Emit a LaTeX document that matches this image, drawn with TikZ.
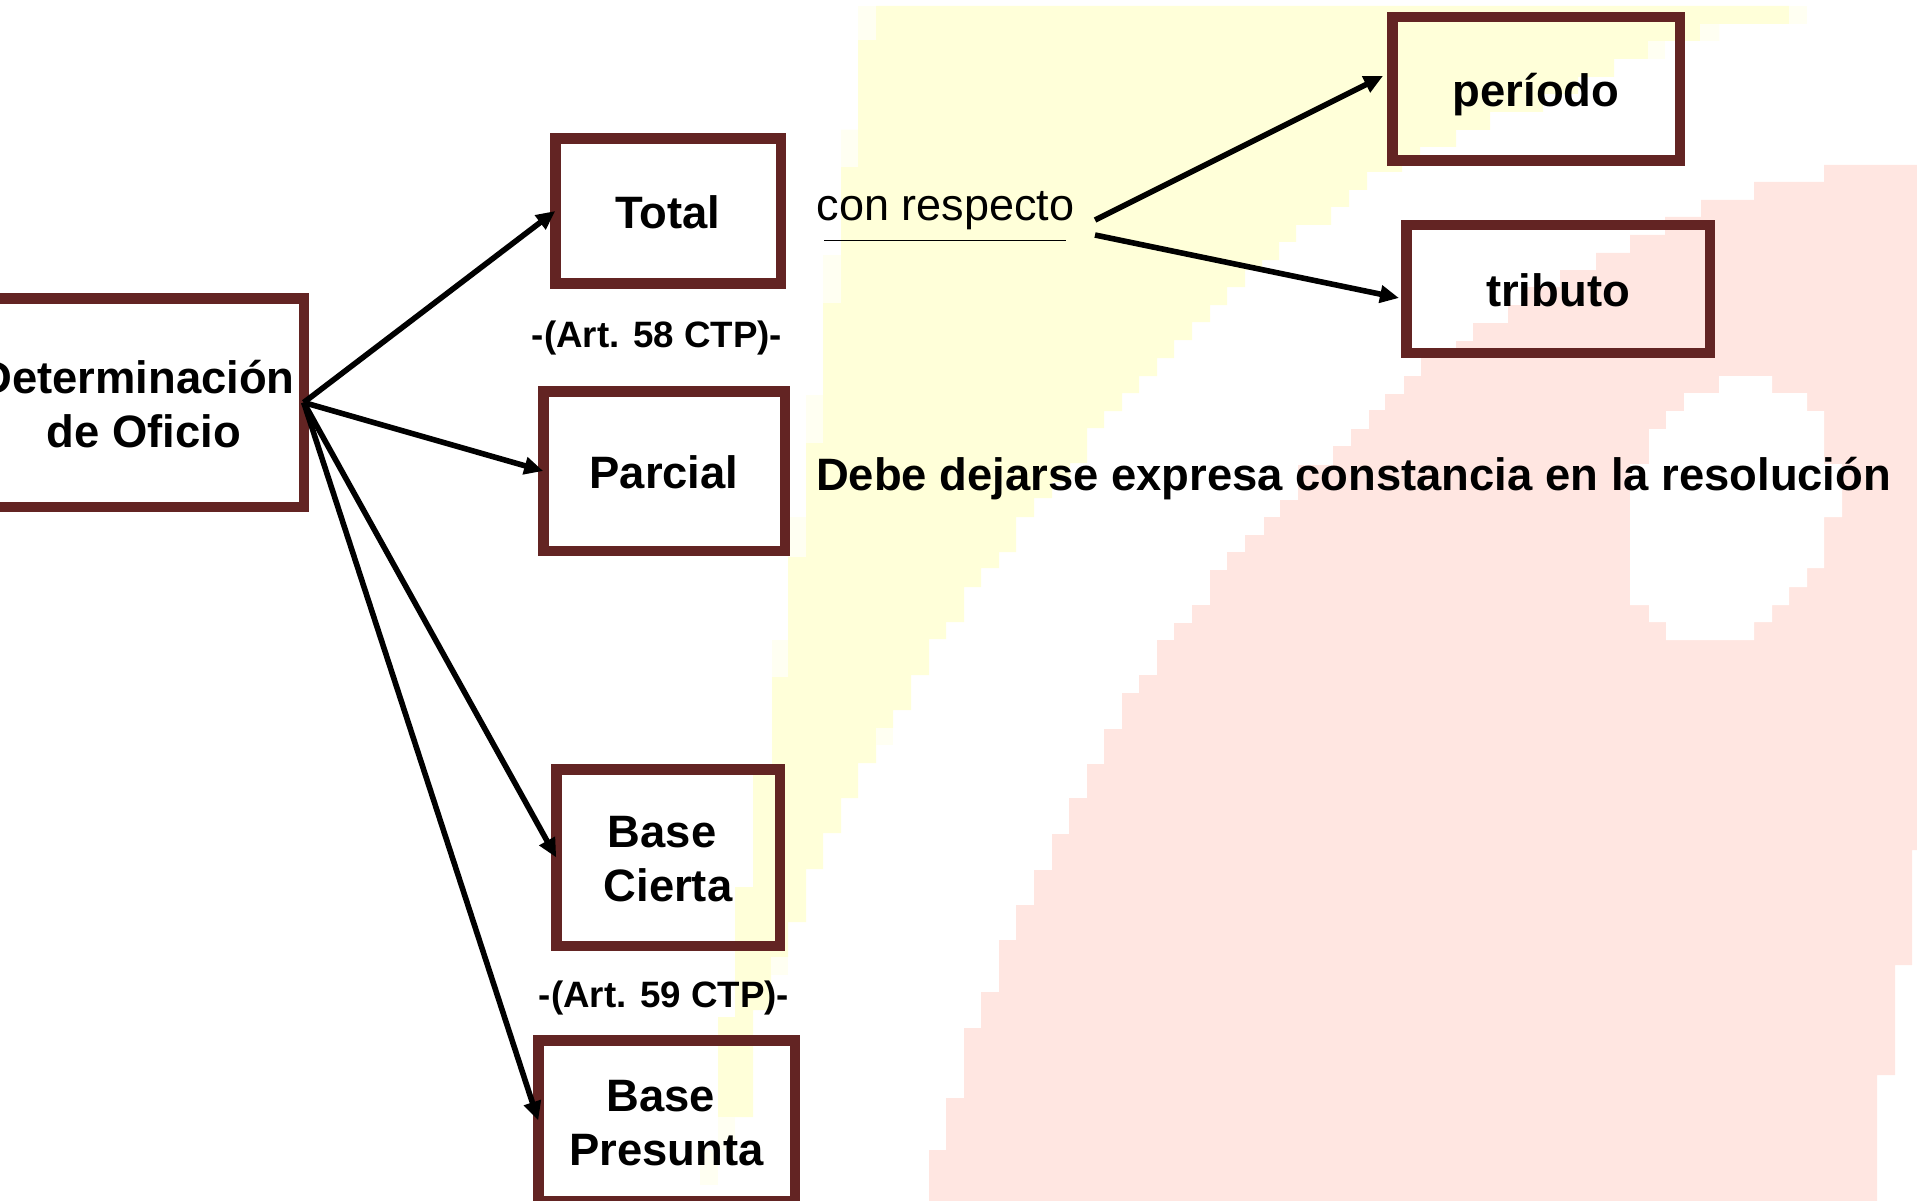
\documentclass[tikz,border=0pt]{standalone}
\usepackage{fontspec}
\setmainfont{Liberation Sans}
\usetikzlibrary{arrows.meta}
\definecolor{boxbrown}{HTML}{632423}
\definecolor{bgyellow}{HTML}{FFFFD9}
\definecolor{bgpale}{HTML}{FFFFF2}
\definecolor{bgpink}{HTML}{FFE6E1}
\newcommand{\lowered}[2]{\raisebox{-#1pt}[\height][\depth]{#2}}
\tikzset{
  x=1pt,y=-1pt,
  bigbold/.style={font=\fontsize{45.4}{54.5}\selectfont\bfseries},
  diagbox/.style={draw=boxbrown,line width=10.5pt,inner sep=0pt,outer sep=0pt,align=center,bigbold,text=black},
  artlabel/.style={anchor=base,inner sep=0pt,font=\fontsize{36.7}{44}\selectfont\bfseries,text=black},
  plainlabel/.style={anchor=base,inner sep=0pt,font=\fontsize{45}{54}\selectfont,text=black},
  plainbold/.style={anchor=base west,inner sep=0pt,bigbold,text=black},
  link/.style={draw=black,line width=5.6pt,-{Triangle[length=19pt,width=17pt]}},
  rulepart/.style={draw=black,line width=1.8pt},
}
\begin{document}
\begin{tikzpicture}
\useasboundingbox (0,0) rectangle (1917,1201);
\clip (0,0) rectangle (1917,1201);
% background shapes
\fill[bgyellow] (1789,6) |- (1719,24) |- (1660,41) |- (1614,59) |- (1578,77) |- (1543,94) |- (1490,112) |- (1456,130) |- (1420,147) |- (1402,155) |- (1367,172) |- (1349,190) |- (1331,207) |- (1296,225) |- (1279,242) |- (1262,260) |- (1245,270) |- (1227,287) |- (1210,305) |- (1192,322) |- (1174,340) |- (1157,358) |- (1139,376) |- (1122,393) |- (1104,411) |- (1087,428) |- (1070,463) |- (1052,482) |- (1034,498) |- (1016,517) |- (999,552) |- (981,568) |- (964,587) |- (946,622) |- (929,639) |- (911,675) |- (893,710) |- (876,728) |- (858,763) |- (841,798) |- (823,833) |- (806,869) |- (788,922) |- (771,957) |- (753,1010) |- (735,1117) -- (718,1117) |- (735,1017) |- (753,887) |- (772,767) |- (788,640) |- (806,517) |- (823,395) |- (841,255) |- (858,130) |- (876,40) -- (876,6) -- cycle;
\fill[bgpale] (718,1117) rectangle (735,1150);
\fill[bgpale] (700,1150) rectangle (718,1185);
\fill[bgpale] (858,6) rectangle (876,40);
\fill[bgpale] (841,130) rectangle (858,167);
\fill[bgpale] (823,255) rectangle (841,303);
\fill[bgpale] (806,395) rectangle (823,443);
\fill[bgpale] (788,517) rectangle (806,557);
\fill[bgpale] (772,640) rectangle (788,677);
\fill[bgpale] (1789,6) rectangle (1807,24);
\fill[bgpale] (1700,24) rectangle (1719,41);
\fill[bgpale] (1648,41) rectangle (1665,59);
\fill[bgpale] (771,957) rectangle (788,975);
\fill[bgpale] (893,728) rectangle (876,745);
\fill[bgpink] (929,1201) |- (946,1150) |- (964,1098) |- (981,1028) |- (999,992) |- (1016,940) |- (1034,905) |- (1052,870) |- (1069,834) |- (1087,798) |- (1104,764) |- (1122,729) |- (1139,693) |- (1157,675) |- (1174,640) |- (1192,623) |- (1210,605) |- (1227,570) |- (1245,552) |- (1264,535) |- (1280,517) |- (1298,500) |- (1333,465) |- (1351,446) |- (1369,429) |- (1385,410) |- (1404,394) |- (1421,376) |- (1456,358) |- (1473,341) |- (1508,323) |- (1525,305) |- (1560,287) |- (1596,270) |- (1630,253) |- (1665,235) |- (1701,217) |- (1754,200) |- (1824,182) |- (1917,165) -- (1917,850) -- (1912,850) -- (1912,965) -- (1895,965) -- (1895,1075) -- (1877,1075) -- (1877,1201) -- cycle;
\fill[white] (1772,376) |- (1807,393) |- (1824,411) |- (1842,464) |- (1824,517) |- (1807,568) |- (1789,587) |- (1772,605) |- (1754,622) |- (1666,640) |- (1649,622) |- (1630,605) |- (1649,464) |- (1666,429) |- (1684,411) |- (1719,393) -- (1719,376) -- cycle;
% boxes
\node[diagbox,minimum width=319.5pt,minimum height=208.5pt] (det) at (144,402.5) {\makebox[300pt][c]{\lowered{2}{Determinación\hspace*{14pt}}}\\\lowered{1.6}{de Oficio}};
\node[diagbox,minimum width=225.5pt,minimum height=144.5pt] (total) at (668,211) {\lowered{1.4}{Total}};
\node[diagbox,minimum width=241.5pt,minimum height=159.5pt] (parcial) at (664,471) {\lowered{1.6}{Parcial}};
\node[diagbox,minimum width=223.5pt,minimum height=176.5pt] (cierta) at (668,857.5) {\lowered{1.8}{Base\hspace*{12pt}}\\\lowered{1.8}{Cierta}};
\node[diagbox,minimum width=256.5pt,minimum height=160.5pt] (presunta) at (666.5,1120.5) {\lowered{2.4}{Base\hspace*{12pt}}\\\lowered{2.4}{Presunta}};
\node[diagbox,minimum width=287.5pt,minimum height=143.5pt,text height=33pt,text depth=0pt] (periodo) at (1536,89) {\lowered{1}{período}};
\node[diagbox,minimum width=303.5pt,minimum height=127.5pt] (tributo) at (1558,289) {\lowered{1.2}{tributo}};
% labels
\node[artlabel] (art58) at (657,347) {-(Art. 58 CTP)-};
\node[artlabel] (art59) at (664,1007) {-(Art. 59 CTP)-};
\node[plainlabel] (respecto) at (945.5,221) {con respecto};
\node[plainbold] (debe) at (816,490) {Debe dejarse expresa constancia en la resolución};
% named free ends
\coordinate (ruleL) at (824,240.5);
\coordinate (ruleR) at (1066,240.5);
\coordinate (fromA) at (1095,220);
\coordinate (fromB) at (1095,235);
\coordinate (tipA) at (1383,76);
\coordinate (tipB) at (1399,298);
% connectors
\draw[rulepart] (ruleL) -- (ruleR);
\draw[link] (det.east) -- (total.west);
\draw[link] (det.east) -- (parcial.west);
\draw[link] (det.east) -- (cierta.west);
\draw[link] (det.east) -- (presunta.west);
\draw[link] (fromA) -- (tipA);
\draw[link] (fromB) -- (tipB);
\end{tikzpicture}
\end{document}
